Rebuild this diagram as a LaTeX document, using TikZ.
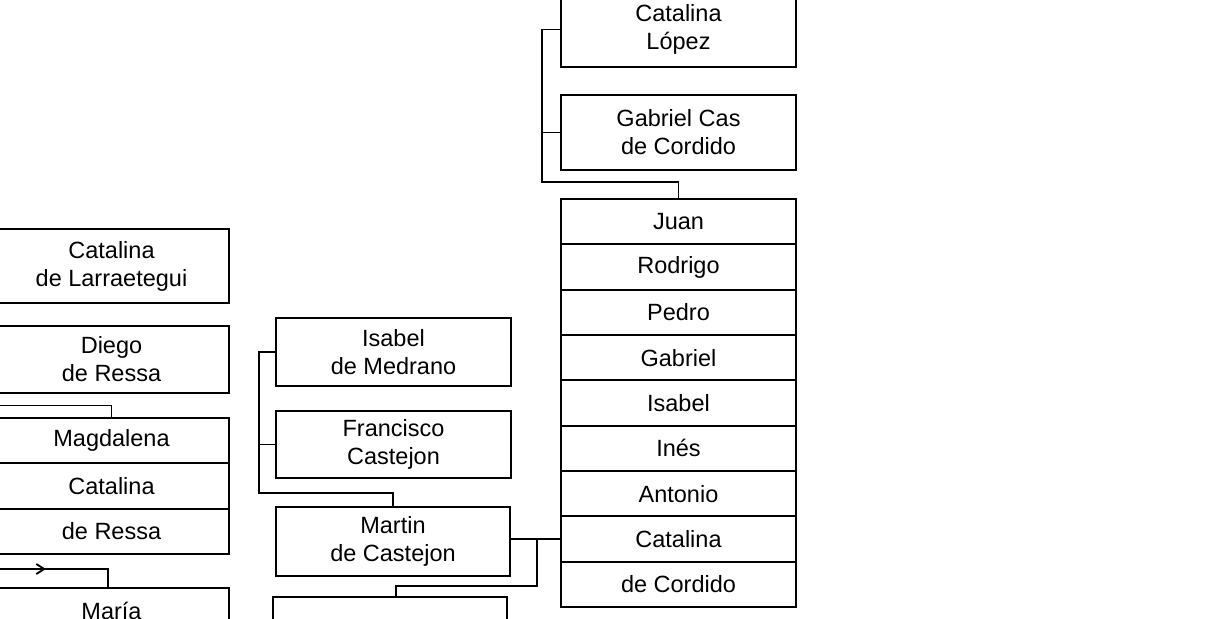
\documentclass[tikz,border=0pt]{standalone}
\usepackage{fontspec}
\setmainfont{Liberation Sans}
\usetikzlibrary{arrows.meta, decorations.markings}
\tikzset{
  person/.style = {draw, line width=0.9pt, inner sep=0pt, outer sep=0pt, align=center,
    minimum width=117.5pt, minimum height=37.5pt, font=\fontsize{11.75}{14}\selectfont},
  row/.style = {person, minimum height=22.67pt},
  link/.style = {line width=0.9pt},
  flowmark/.style = {link, postaction={decorate}, decoration={markings,
    mark=at position 28pt with {\arrow{Straight Barb[length=4pt, width=5pt]}}}}
}

\begin{document}
\begin{tikzpicture}[x=0.5pt, y=-0.5pt]

\useasboundingbox (0,0) rectangle (1206,618);
\clip (0,0) rectangle (1206,618);

% right column
\node[person] (lopez) at (678.5,29.5) {Catalina\\López};
\node[person] (gabcas) at (678.5,132.5) {Gabriel Cas\\de Cordido};
\foreach \name [count=\i] in {Juan, Rodrigo, Pedro, Gabriel, Isabel, Inés, Antonio, Catalina, de Cordido}
  \node[row] (r\i) at (678.5,{199+45.333*(\i-0.5)}) {\name};

% middle column
\node[person, minimum height=34pt] (isabel) at (393.5,352) {Isabel\\de Medrano};
\node[person, minimum height=33.5pt] (francisco) at (393.5,444.5) {Francisco\\Castejon};
\node[person, minimum width=117pt, minimum height=34.5pt] (martin) at (393,541.5) {Martin\\de Castejon};
\node[person, minimum width=117pt, minimum height=35pt] (lower) at (390,632) {};

% left column
\node[person, minimum height=37pt] (larraetegui) at (111.5,266) {Catalina\\de Larraetegui};
\node[person, minimum height=33.5pt] (diego) at (111.5,359.5) {Diego\\de Ressa};
\foreach \name [count=\i] in {Magdalena, Catalina, de Ressa}
  \node[row] (l\i) at (111.5,{418+45.333*(\i-0.5)}) {\name};
\node[row] (maria) at (111.5,610.7) {María};

% brackets
\coordinate (jbar) at (542,182);
\coordinate (mbar) at (259,493);
\coordinate (cbar) at (537,586);
\coordinate (lin1) at (-10,405.5);
\coordinate (lin2) at (-10,569);

\draw[link] (lopez.west) -| (jbar) -| (r1.north);
\draw[link] (gabcas.west) -- (gabcas.west -| jbar);
\draw[link] (isabel.west) -| (mbar) -| (martin.north);
\draw[link] (francisco.west) -- (francisco.west -| mbar);
\draw[link] (r8.west) -- (r8.west -| martin.east);
\draw[link] (r8.west -| cbar) -- (cbar) -| ([xshift=3pt]lower.north);
\draw[link] (lin1) -| (l1.north);
\draw[flowmark] (lin2) -| ([xshift=-1.75pt]maria.north);

\end{tikzpicture}
\end{document}
